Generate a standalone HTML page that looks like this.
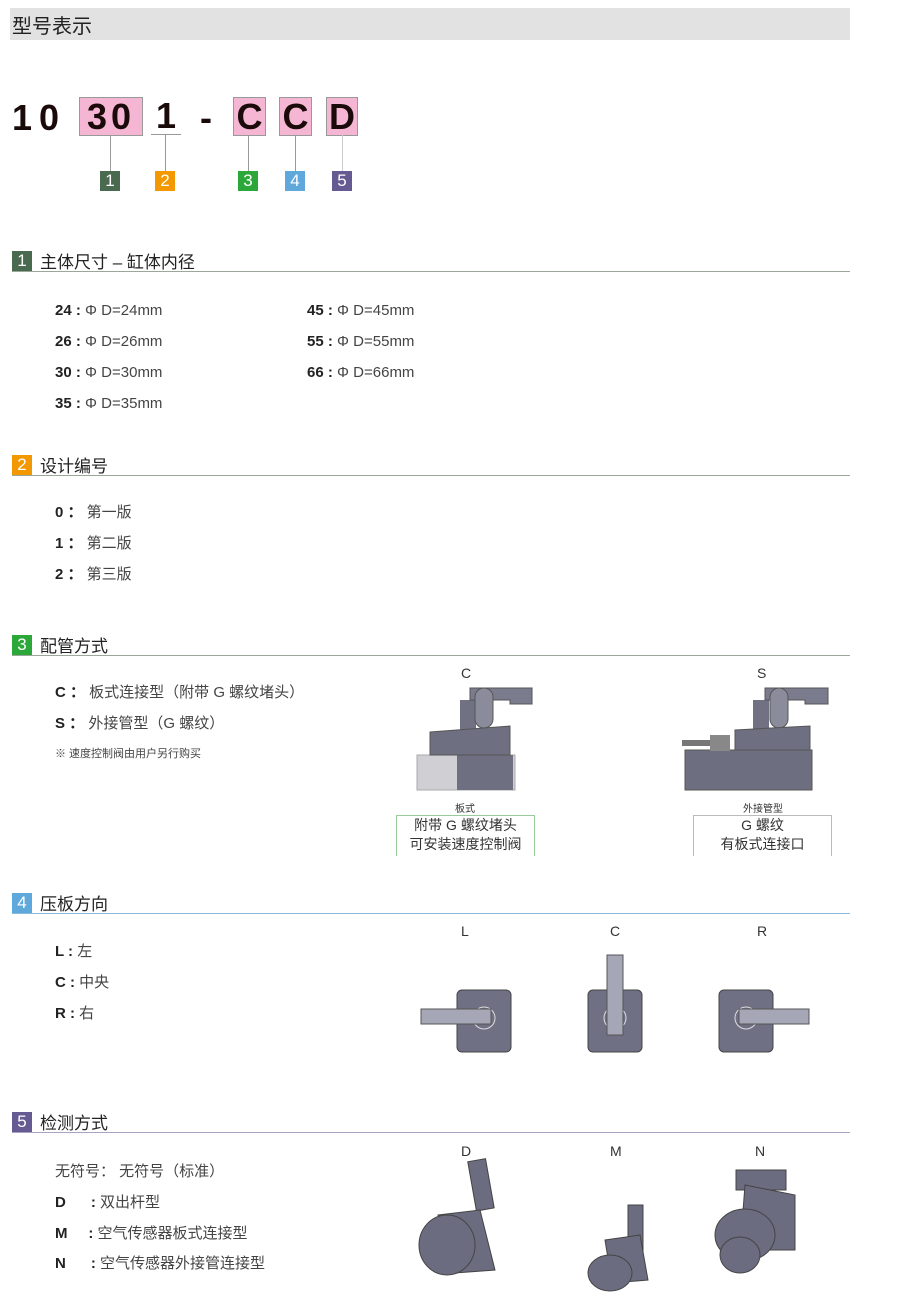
<!DOCTYPE html>
<html><head><meta charset="utf-8"><style>
body{margin:0;width:900px;height:1296px;background:#fff;position:relative;font-family:"Liberation Sans","Noto Sans CJK SC",sans-serif;color:#333;overflow:hidden}
.a{position:absolute;white-space:nowrap}
.bx{position:absolute;background:#f4b6d2;border:1px solid #999;font:bold 36px "Liberation Sans",sans-serif;color:#1a0a0a;text-align:center;line-height:37px;height:37px}
.vl{position:absolute;width:1px;background:#999}
.bd{position:absolute;width:20px;height:20px;color:#fff;font-size:17px;line-height:20px;text-align:center}
.sh{position:absolute;left:12px;width:838px;height:20px;border-bottom:1px solid #9aa79a}
.sh .bd{left:0;top:0}
.sh span{position:absolute;left:28px;top:-3px;font-size:17px;color:#222}
.t{position:absolute;font-size:15px;color:#444;line-height:16px}
.t b{color:#222}
</style></head><body>
<div class="a" style="left:10px;top:8px;width:840px;height:32px;background:#e2e2e2"></div>
<div class="a" style="left:12px;top:10px;font-size:20px;color:#222">型号表示</div>

<div class="a" style="left:12px;top:97px;font:bold 36px 'Liberation Sans',sans-serif;color:#1a0a0a;letter-spacing:7px">10</div>
<div class="bx" style="left:79px;top:97px;width:62px;letter-spacing:4px">30</div>
<div class="a" style="left:151px;top:97px;font:bold 36px 'Liberation Sans',sans-serif;color:#1a0a0a;width:30px;text-align:center;border-bottom:1px solid #999;height:37px;line-height:37px">1</div>
<div class="a" style="left:200px;top:97px;font:bold 36px 'Liberation Sans',sans-serif;color:#1a0a0a">-</div>
<div class="bx" style="left:233px;top:97px;width:31px">C</div>
<div class="bx" style="left:279px;top:97px;width:31px">C</div>
<div class="bx" style="left:326px;top:97px;width:30px">D</div>
<div class="vl" style="left:110px;top:135px;height:36px"></div>
<div class="vl" style="left:165px;top:135px;height:36px"></div>
<div class="vl" style="left:248px;top:135px;height:36px"></div>
<div class="vl" style="left:295px;top:135px;height:36px"></div>
<div class="vl" style="left:342px;top:135px;height:36px;background:#ccc"></div>
<div class="bd" style="left:100px;top:171px;background:#4a6a4f">1</div>
<div class="bd" style="left:155px;top:171px;background:#f39800">2</div>
<div class="bd" style="left:238px;top:171px;background:#2ca83a">3</div>
<div class="bd" style="left:285px;top:171px;background:#5fa8dc">4</div>
<div class="bd" style="left:332px;top:171px;background:#665a92">5</div>

<div class="sh" style="top:251px"><div class="bd" style="background:#4a6a4f">1</div><span>主体尺寸 – 缸体内径</span></div>
<div class="t" style="left:55px;top:303px"><b>24 :</b> Φ D=24mm</div>
<div class="t" style="left:55px;top:334px"><b>26 :</b> Φ D=26mm</div>
<div class="t" style="left:55px;top:365px"><b>30 :</b> Φ D=30mm</div>
<div class="t" style="left:55px;top:396px"><b>35 :</b> Φ D=35mm</div>
<div class="t" style="left:307px;top:303px"><b>45 :</b> Φ D=45mm</div>
<div class="t" style="left:307px;top:334px"><b>55 :</b> Φ D=55mm</div>
<div class="t" style="left:307px;top:365px"><b>66 :</b> Φ D=66mm</div>

<div class="sh" style="top:455px"><div class="bd" style="background:#f39800">2</div><span>设计编号</span></div>
<div class="t" style="left:55px;top:505px"><b>0 ：</b> 第一版</div>
<div class="t" style="left:55px;top:536px"><b>1 ：</b> 第二版</div>
<div class="t" style="left:55px;top:567px"><b>2 ：</b> 第三版</div>

<div class="sh" style="top:635px"><div class="bd" style="background:#2ca83a">3</div><span>配管方式</span></div>
<div class="t" style="left:55px;top:685px"><b>C ：</b> 板式连接型（附带 G 螺纹堵头）</div>
<div class="t" style="left:55px;top:716px"><b>S ：</b> 外接管型（G 螺纹）</div>
<div class="t" style="left:55px;top:746px;font-size:11px">※ 速度控制阀由用户另行购买</div>

<div class="a" style="left:461px;top:665px;font-size:14px">C</div>
<div class="a" style="left:757px;top:665px;font-size:14px">S</div>
<svg class="a" style="left:410px;top:680px" width="440" height="112">
 <rect x="7" y="75" width="98" height="35" fill="#d0d0d4" stroke="#aaa"/>
 <rect x="47" y="75" width="56" height="35" fill="#6e6f80"/>
 <rect x="50" y="20" width="16" height="42" fill="#707284"/>
 <path d="M60 8 H122 L122 24 H100 V20 H60Z" fill="#7a7c8e" stroke="#555"/>
 <rect x="65" y="8" width="18" height="40" rx="9" fill="#8a8c9c" stroke="#555"/>
 <path d="M20 52 L100 46 V75 H20Z" fill="#6e7082" stroke="#555"/>
 <rect x="275" y="70" width="127" height="40" fill="#6d6e80" stroke="#555"/>
 <rect x="343" y="20" width="16" height="42" fill="#707284"/>
 <path d="M355 8 H418 L418 24 H395 V20 H355Z" fill="#7a7c8e" stroke="#555"/>
 <rect x="360" y="8" width="18" height="40" rx="9" fill="#8a8c9c" stroke="#555"/>
 <path d="M325 50 L400 46 V70 H325Z" fill="#6e7082" stroke="#555"/>
 <rect x="272" y="60" width="45" height="6" fill="#777"/>
 <rect x="300" y="55" width="20" height="16" fill="#888"/>
</svg>
<div class="a" style="left:455px;top:800px;font-size:10px">板式</div>
<div class="a" style="left:743px;top:800px;font-size:10px">外接管型</div>
<div class="a" style="left:396px;top:815px;width:137px;height:40px;border:1px solid #9c9;border-bottom:none;text-align:center;font-size:14px;line-height:19px">附带 G 螺纹堵头<br>可安装速度控制阀</div>
<div class="a" style="left:693px;top:815px;width:137px;height:40px;border:1px solid #bbb;border-bottom:none;text-align:center;font-size:14px;line-height:19px">G 螺纹<br>有板式连接口</div>

<div class="sh" style="top:893px;border-color:#8ab8dc"><div class="bd" style="background:#5fa8dc">4</div><span>压板方向</span></div>
<div class="t" style="left:55px;top:944px"><b>L :</b> 左</div>
<div class="t" style="left:55px;top:975px"><b>C :</b> 中央</div>
<div class="t" style="left:55px;top:1006px"><b>R :</b> 右</div>
<div class="a" style="left:461px;top:923px;font-size:14px">L</div>
<div class="a" style="left:610px;top:923px;font-size:14px">C</div>
<div class="a" style="left:757px;top:923px;font-size:14px">R</div>
<svg class="a" style="left:400px;top:950px" width="420" height="110">
 <g fill="#6f7084" stroke="#444">
  <rect x="57" y="40" width="54" height="62" rx="5"/>
  <rect x="188" y="40" width="54" height="62" rx="5"/>
  <rect x="319" y="40" width="54" height="62" rx="5"/>
 </g>
 <g fill="none" stroke="#ddd">
  <circle cx="84" cy="68" r="11"/><circle cx="215" cy="68" r="11"/><circle cx="346" cy="68" r="11"/>
 </g>
 <g fill="#a5a7b6" stroke="#555">
  <rect x="21" y="59" width="70" height="15"/>
  <rect x="207" y="5" width="16" height="80"/>
  <rect x="339" y="59" width="70" height="15"/>
 </g>
</svg>

<div class="sh" style="top:1112px;border-color:#a9a3c3"><div class="bd" style="background:#665a92">5</div><span>检测方式</span></div>
<div class="t" style="left:55px;top:1164px">无符号：  无符号（标准）</div>
<div class="t" style="left:55px;top:1195px"><b>D</b>&nbsp;&nbsp;&nbsp;&nbsp;&nbsp;&nbsp;<b>:</b> 双出杆型</div>
<div class="t" style="left:55px;top:1226px"><b>M</b>&nbsp;&nbsp;&nbsp;&nbsp;&nbsp;<b>:</b> 空气传感器板式连接型</div>
<div class="t" style="left:55px;top:1256px"><b>N</b>&nbsp;&nbsp;&nbsp;&nbsp;&nbsp;&nbsp;<b>:</b> 空气传感器外接管连接型</div>
<div class="a" style="left:461px;top:1143px;font-size:14px">D</div>
<div class="a" style="left:610px;top:1143px;font-size:14px">M</div>
<div class="a" style="left:755px;top:1143px;font-size:14px">N</div>
<svg class="a" style="left:400px;top:1155px" width="420" height="141">
 <g fill="#6b6c80" stroke="#444">
  <rect x="72" y="5" width="18" height="50" transform="rotate(-10 80 30)"/>
  <path d="M38 60 L80 55 L95 115 L55 118Z"/>
  <ellipse cx="47" cy="90" rx="28" ry="30"/>
  <rect x="228" y="50" width="15" height="50"/>
  <path d="M205 85 L240 80 L248 125 L212 128Z"/>
  <ellipse cx="210" cy="118" rx="22" ry="18"/>
  <rect x="336" y="15" width="50" height="20"/>
  <path d="M345 30 L395 40 L395 95 L340 95Z"/>
  <ellipse cx="345" cy="80" rx="30" ry="26"/>
  <ellipse cx="340" cy="100" rx="20" ry="18"/>
 </g>
</svg>
</body></html>
